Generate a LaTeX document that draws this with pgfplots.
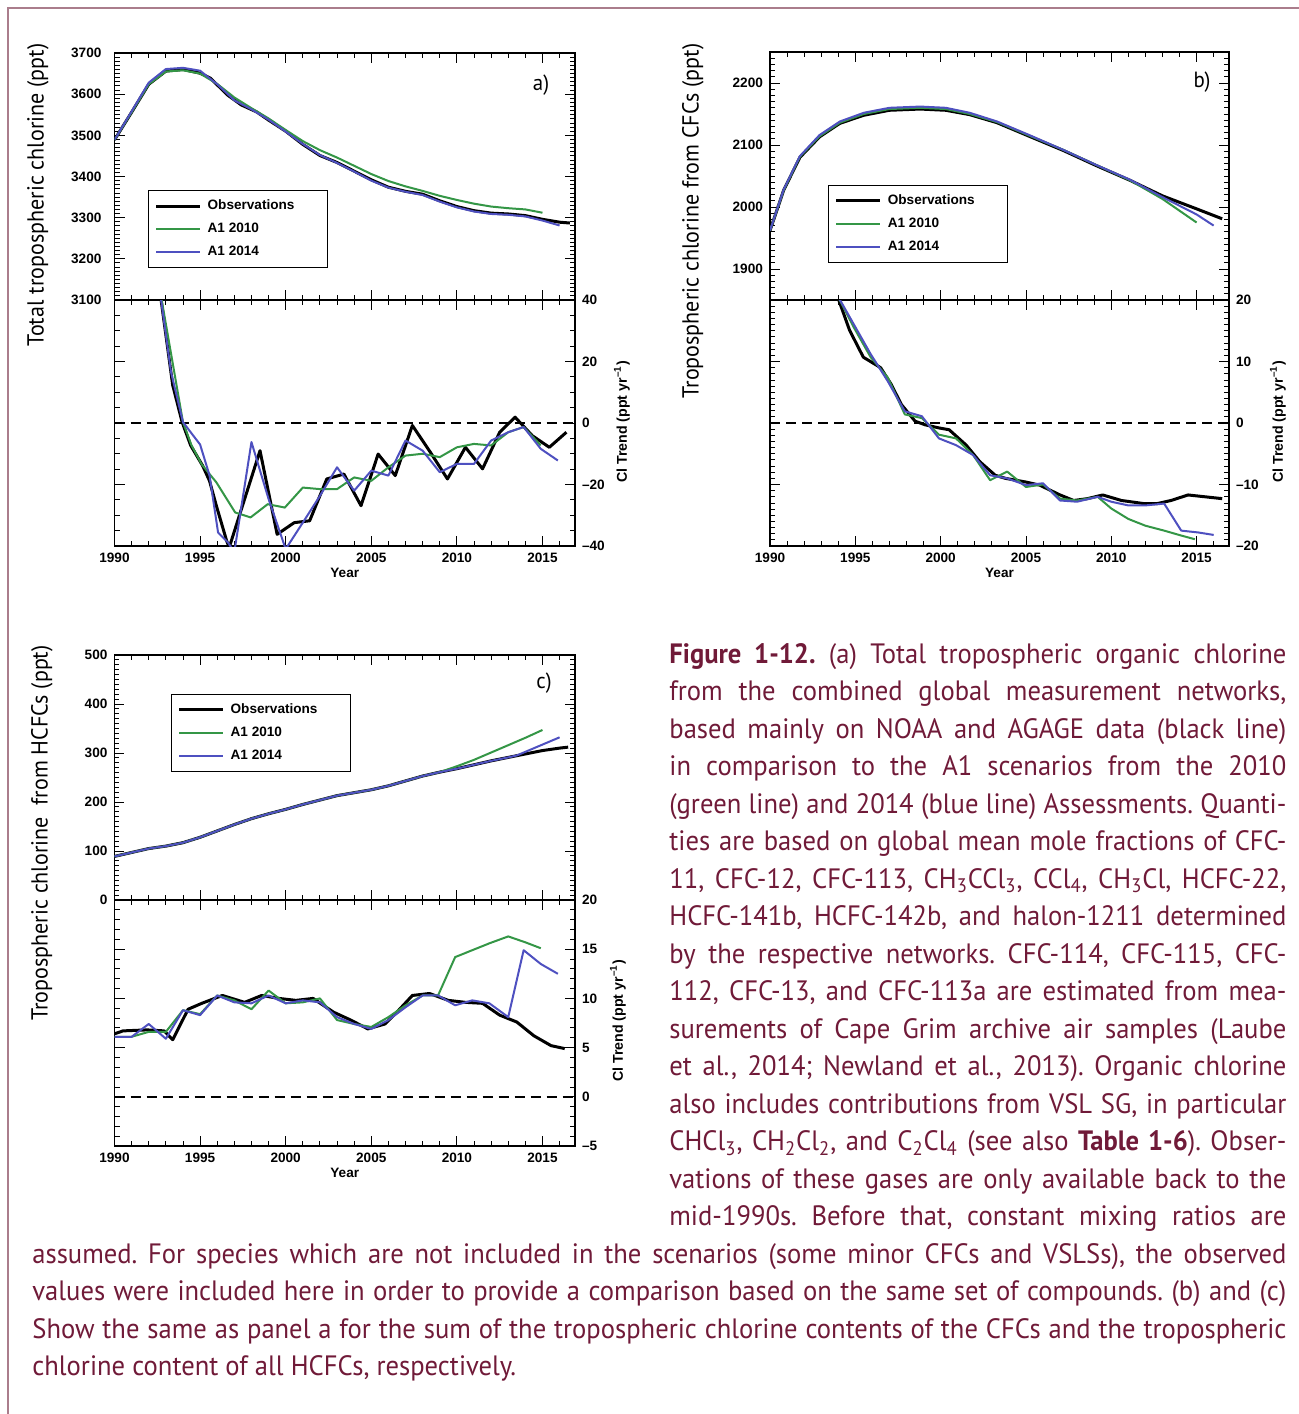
\documentclass[border=0pt]{standalone}
\usepackage{pgfplots}
\pgfplotsset{compat=1.18}
\usepackage{fontspec}
\setmainfont{PT Sans}[FakeStretch=0.95]
\newfontfamily\hel{Liberation Sans}[Ligatures=TeX]
\definecolor{gline}{RGB}{52,150,70}
\definecolor{bline}{RGB}{78,80,192}
\definecolor{captxt}{RGB}{112,26,56}
\definecolor{framec}{RGB}{170,125,140}
\newcommand\tickfont{\hel\bfseries\fontsize{6.8}{8}\selectfont}
\newcommand\trendfont{\hel\bfseries\fontsize{7.1}{8}\selectfont}
\newcommand\labfont{\fontsize{11.6}{13}\selectfont}
\newcommand\letfont{\fontsize{11}{13}\selectfont}
\newcommand\capfont{\fontsize{14}{18.75}\selectfont}
\pgfplotsset{
 base/.style={scale only axis, anchor=north west, xmin=1990, xmax=2016.9,
  axis line style={line width=0.7pt},
  tick style={black, line width=0.45pt},
  tick align=inside, major tick length=5pt, minor tick length=2.5pt,
  xtick={1990,1995,2000,2005,2010,2015},
  minor xtick={1990,1991,...,2016},
  ticklabel style={font=\tickfont}},
 topax/.style={base, xticklabels={}},
 botax/.style={base, xticklabels={1990,1995,2000,2005,2010,2015},
  yticklabel pos=right, xlabel={Year}, xlabel style={font=\tickfont, yshift=4pt}},
 obs/.style={black, line width=1.5pt, line join=round},
 aa/.style={gline, line width=1pt, line join=round},
 ab/.style={bline, line width=1pt, line join=round},
 zl/.style={black, line width=1pt, dash pattern=on 5pt off 3pt},
 leg/.style={legend style={draw=black, line width=0.5pt, font=\tickfont, anchor=north west,
   inner xsep=3pt, inner ysep=2pt, row sep=0pt, nodes={minimum height=11.5pt, inner sep=1pt},
   cells={anchor=west}},
   legend image code/.code={\draw[##1] (0pt,0pt) -- (22pt,0pt);}},
}
\begin{document}
\frenchspacing
\begin{tikzpicture}
\path[use as bounding box] (0,0) rectangle (649.5pt,-707pt);
\draw[framec, line width=1pt] (4pt,-707pt) -- (4pt,-4pt) -- (649.5pt,-4pt);

% ---------- panel a top
\begin{axis}[topax, leg, at={(57.25pt,-26.5pt)}, width=230.25pt, height=123.5pt,
 ymin=3100, ymax=3700, ytick={3100,3200,...,3700},
 yticklabels={3100,3200,3300,3400,3500,3600,3700},
 yticklabel style={xshift=-3pt},
 minor ytick={3100,3110,...,3700},
 legend style={at={(0.073,0.445)}}]
\addplot[obs] coordinates {(1990,3489) (1991,3556) (1992,3624) (1993,3656) (1994,3660) (1995,3651) (1995.6,3639) (1996.6,3598) (1997.4,3574) (1998.3,3557) (1999,3537) (2000,3510) (2001,3478) (2002,3451) (2003,3434) (2004,3413) (2005,3392) (2006,3374) (2007,3364) (2008,3357) (2009,3341) (2010,3327) (2011,3317) (2012,3311) (2013,3309) (2014,3305) (2015,3296) (2016,3289) (2016.6,3287)};
\addlegendentry{\hspace{2pt}\makebox[56pt][l]{Observations}}
\addplot[aa] coordinates {(1990,3489) (1991,3556) (1992,3624) (1993,3655) (1994,3658) (1995,3650) (1996,3625) (1997,3592) (1998,3566) (1999,3541) (2000,3513) (2001,3486) (2002,3464) (2003,3446) (2004,3426) (2005,3406) (2006,3389) (2007,3376) (2008,3365) (2009,3353) (2010,3343) (2011,3334) (2012,3327) (2013,3323) (2014,3320) (2015,3312)};
\addlegendentry{\hspace{2pt}A1 2010}
\addplot[ab] coordinates {(1990,3489) (1991,3558) (1992,3628) (1993,3661) (1994,3664) (1995,3657) (1996,3624) (1997,3585) (1998,3563) (1999,3538) (2000,3509) (2001,3479) (2002,3452) (2003,3433) (2004,3412) (2005,3390) (2006,3373) (2007,3363) (2008,3355) (2009,3339) (2010,3325) (2011,3315) (2012,3309) (2013,3307) (2014,3303) (2015,3293) (2016,3281)};
\addlegendentry{\hspace{2pt}A1 2014}
\end{axis}

% ---------- panel a bottom
\begin{axis}[botax, at={(57.25pt,-150pt)}, width=230.25pt, height=123pt,
 ymin=-40, ymax=40, ytick={-40,-20,0,20,40},
 yticklabels={–40,–20,0,20,40}, minor ytick={-40,-35,...,40}]
\addplot[zl] coordinates {(1990,0) (2016.9,0)};
\addplot[obs] coordinates {(1992.6,45) (1993.4,12.3) (1993.95,0.3) (1994.45,-7.3) (1995.15,-13.9) (1995.55,-18.8) (1995.95,-26.9) (1996.55,-38.3) (1996.7,-40.5) (1998.5,-9) (1999.5,-36.2) (2000.5,-32.4) (2001.4,-31.8) (2002.4,-18.2) (2003.4,-16.6) (2004.4,-26.9) (2005.4,-10.1) (2006.4,-17.1) (2007.4,-0.8) (2008.45,-9.5) (2009.45,-18.2) (2010.5,-7.9) (2011.5,-14.9) (2012.5,-3) (2013.4,1.9) (2014.4,-4.1) (2015.4,-7.9) (2016.4,-3)};
\addplot[aa] coordinates {(1992.6,45) (1994,0.3) (1994.5,-7.3) (1995.1,-13.5) (1995.95,-19.3) (1997.05,-29.1) (1997.95,-30.7) (1998.95,-26.4) (1999.95,-27.5) (2001,-21) (2002,-21.5) (2003,-21.5) (2004,-17.7) (2005,-18.8) (2006,-14.4) (2007,-10.6) (2008,-10) (2009,-11.1) (2010,-7.9) (2011,-6.8) (2012,-7.3) (2013,-3) (2013.9,-1.3) (2014.9,-7.3)};
\addplot[ab] coordinates {(1992.6,45) (1993.3,16.6) (1994,0.3) (1994.45,-3) (1995,-7) (1995.55,-17) (1996.05,-35.6) (1996.65,-39) (1997,-42) (1998,-6.2) (1999,-24.7) (2000,-41) (2001,-32.4) (2002,-23.7) (2003,-14.4) (2004,-22) (2005,-15.5) (2006,-17.1) (2007,-5.7) (2008,-9) (2009,-16) (2010,-13.3) (2011,-13.3) (2012,-5.7) (2013,-3) (2013.9,-1.3) (2014.9,-8.4) (2015.9,-12.2)};
\end{axis}

% ---------- panel b top
\begin{axis}[topax, leg, at={(385pt,-26pt)}, width=229.5pt, height=124pt,
 ymin=1850, ymax=2250, ytick={1900,2000,2100,2200},
 yticklabels={1900,2000,2100,2200},
 minor ytick={1850,1860,...,2250},
 legend style={at={(0.127,0.464)}}]
\addplot[obs] coordinates {(1990,1962) (1990.8,2027) (1991.75,2080) (1992.9,2113) (1994.1,2135) (1995.5,2148) (1997,2156) (1998.8,2158) (2000.3,2156) (2001.7,2149) (2003.3,2136) (2005.2,2114) (2007.2,2091) (2009.1,2067) (2011.1,2043) (2013,2018) (2015,1997) (2016.5,1981)};
\addlegendentry{\hspace{2pt}\makebox[56pt][l]{Observations}}
\addplot[aa] coordinates {(1990,1962) (1990.8,2027) (1991.75,2081) (1992.9,2114) (1994.1,2136) (1995.5,2150) (1997,2158) (1998.8,2160) (2000.3,2158) (2001.7,2150) (2003.3,2137) (2005.2,2115) (2007.2,2092) (2009.1,2068) (2011.1,2043) (2013,2013) (2015,1975)};
\addlegendentry{\hspace{2pt}A1 2010}
\addplot[ab] coordinates {(1990,1962) (1990.8,2028) (1991.75,2082) (1992.9,2116) (1994.1,2138) (1995.5,2152) (1997,2160) (1998.8,2162) (2000.3,2160) (2001.7,2152) (2003.3,2138) (2005.2,2116) (2007.2,2092) (2009.1,2068) (2011.1,2044) (2013,2016) (2015,1988) (2016,1970)};
\addlegendentry{\hspace{2pt}A1 2014}
\end{axis}

% ---------- panel b bottom
\begin{axis}[botax, at={(385pt,-150pt)}, width=229.5pt, height=123pt,
 ymin=-20, ymax=20, ytick={-20,-10,0,10,20},
 yticklabels={–20,–10,0,10,20}, minor ytick={-20,-19,...,20}]
\addplot[zl] coordinates {(1990,0) (2016.9,0)};
\addplot[obs] coordinates {(1993.9,21) (1994.66,15.1) (1995.47,10.7) (1996.48,9.0) (1997.1,6.3) (1997.7,3.0) (1998.5,0.3) (1999.1,-0.3) (1999.9,-0.8) (2000.5,-1.1) (2001.5,-3.6) (2002.3,-6.3) (2003.2,-8.5) (2003.8,-9.0) (2005,-9.6) (2005.8,-10.1) (2007,-11.7) (2007.8,-12.6) (2008.6,-12.3) (2009.5,-11.7) (2010.6,-12.6) (2011.9,-13.1) (2012.7,-13.1) (2013.5,-12.6) (2014.5,-11.7) (2015.5,-12.0) (2016.5,-12.3)};
\addplot[aa] coordinates {(1993.9,21) (1994.9,15.6) (1995.9,10.7) (1996.9,7.4) (1997.9,1.4) (1998.9,0.8) (1999.9,-1.9) (2000.9,-2.5) (2001.9,-5.2) (2002.9,-9.3) (2003.9,-7.9) (2005,-10.4) (2006,-10) (2007,-12.3) (2008,-12.6) (2009.2,-12) (2010,-13.9) (2011,-15.6) (2012,-16.7) (2013.1,-17.5) (2014.1,-18.3) (2014.9,-18.9)};
\addplot[ab] coordinates {(1993.9,21) (1994.9,16.1) (1995.9,11.2) (1996.9,6.8) (1997.9,1.9) (1998.9,1.1) (1999.9,-2.5) (2000.9,-3.6) (2001.9,-5.2) (2002.9,-8.5) (2003.9,-9.0) (2005,-10.1) (2006,-9.8) (2007,-12.6) (2008,-12.8) (2009.2,-12) (2010,-12.8) (2011,-13.4) (2012,-13.4) (2013.1,-13.1) (2014.1,-17.5) (2015.1,-17.8) (2016,-18.2)};
\end{axis}

% ---------- panel c top
\begin{axis}[topax, leg, at={(57.25pt,-327.5pt)}, width=230.25pt, height=122.5pt,
 ymin=0, ymax=500, ytick={0,100,...,500},
 yticklabels={0,100,200,300,400,500},
 minor ytick={0,10,...,500},
 legend style={at={(0.123,0.841)}}]
\addplot[obs] coordinates {(1990,89) (1991,97) (1992,105) (1993,110) (1994,117) (1995,128) (1996,141) (1997,154) (1998,166) (1999,176) (2000,185) (2001,195) (2002,204) (2003,213) (2004,219) (2005,225) (2006,233) (2007,243) (2008,253) (2009,261) (2010,268) (2011,276) (2012,284) (2013,291) (2014,298) (2015,305) (2016,310) (2016.5,312)};
\addlegendentry{\hspace{2pt}\makebox[56pt][l]{Observations}}
\addplot[aa] coordinates {(1990,89) (1991,97) (1992,105) (1993,110) (1994,117) (1995,128) (1996,141) (1997,154) (1998,166) (1999,176) (2000,185) (2001,195) (2002,204) (2003,213) (2004,219) (2005,225) (2006,233) (2007,243) (2008,253) (2009,261) (2010,273) (2011,286) (2012,301) (2013,316) (2014,331) (2015,347)};
\addlegendentry{\hspace{2pt}A1 2010}
\addplot[ab] coordinates {(1990,89) (1991,97) (1992,105) (1993,110) (1994,117) (1995,128) (1996,141) (1997,154) (1998,166) (1999,176) (2000,185) (2001,195) (2002,204) (2003,213) (2004,219) (2005,225) (2006,233) (2007,243) (2008,253) (2009,261) (2010,268) (2011,276) (2012,284) (2013,291) (2013.5,295) (2016,332)};
\addlegendentry{\hspace{2pt}A1 2014}
\end{axis}

% ---------- panel c bottom
\begin{axis}[botax, at={(57.25pt,-450pt)}, width=230.25pt, height=123pt,
 ymin=-5, ymax=20, ytick={-5,0,5,10,15,20},
 yticklabels={–5,0,5,10,15,20}, minor ytick={-5,-4,...,20}]
\addplot[zl] coordinates {(1990,0) (2016.9,0)};
\addplot[obs] coordinates {(1990,6.4) (1990.5,6.7) (1991.9,6.8) (1992.9,6.7) (1993.4,5.8) (1994.3,8.9) (1995.1,9.5) (1996.3,10.3) (1997.6,9.6) (1998.6,10.3) (1999.6,10.0) (2000.6,9.8) (2001.6,10.0) (2002.8,8.6) (2003.8,7.8) (2004.8,6.9) (2005.8,7.4) (2006.6,8.8) (2007.4,10.3) (2008.4,10.5) (2009.5,9.8) (2010.5,9.6) (2011.5,9.5) (2012.5,8.3) (2013.5,7.6) (2014.5,6.2) (2015.5,5.2) (2016.3,4.9)};
\addplot[aa] coordinates {(1990,6.1) (1991,6.1) (1992,6.6) (1993,6.6) (1994,8.8) (1995,8.4) (1996,10.3) (1997,9.8) (1998,8.9) (1999,10.8) (2000,9.5) (2001,9.6) (2002,10) (2003,7.8) (2004,7.4) (2005,7.1) (2006,8.1) (2007,9.3) (2008,10.3) (2008.9,10.3) (2009.9,14.2) (2010.9,14.9) (2011.9,15.6) (2013,16.3) (2014,15.7) (2014.9,15.1)};
\addplot[ab] coordinates {(1990,6.1) (1991,6.1) (1992,7.4) (1993,5.9) (1994,8.8) (1995,8.3) (1996,10.3) (1997,9.6) (1998,9.5) (1999,10.3) (2000,9.5) (2001,9.8) (2002,9.6) (2003,8.1) (2004,7.4) (2005,6.9) (2006,7.8) (2007,9.1) (2008,10.3) (2008.9,10.3) (2009.9,9.3) (2010.9,9.8) (2011.9,9.5) (2013,8.1) (2013.9,14.9) (2014.9,13.5) (2015.9,12.5)};
\end{axis}

% ---------- labels
\node[rotate=90, font=\labfont] at (19pt,-97.5pt) {Total tropospheric chlorine (ppt)};
\node[rotate=90, font=\labfont] at (346.5pt,-110.5pt) {Tropospheric chlorine from CFCs (ppt)};
\node[rotate=90, font=\labfont] at (21pt,-416.5pt) {Tropospheric chlorine\ \ from HCFCs (ppt)};
\node[rotate=90, font=\trendfont] at (311pt,-211pt) {Cl Trend (ppt yr\textsuperscript{–1})};
\node[rotate=90, font=\trendfont] at (639pt,-211pt) {Cl Trend (ppt yr\textsuperscript{–1})};
\node[rotate=90, font=\trendfont] at (309pt,-510.5pt) {Cl Trend (ppt yr\textsuperscript{–1})};
\node[font=\letfont] at (270.5pt,-42.5pt) {a)};
\node[font=\letfont] at (601pt,-41pt) {b)};
\node[font=\letfont] at (272pt,-341.5pt) {c)};

% ---------- caption
\node[anchor=north west, inner sep=0pt, text width=627pt, align=justify, font=\capfont, text=captxt] at (16pt,-321.5pt) {%
\frenchspacing\pretolerance=-1\tolerance=10000\hyphenpenalty=10000\exhyphenpenalty=0%
\parshape 17 318.5pt 308.5pt 318.5pt 308.5pt 318.5pt 308.5pt 318.5pt 308.5pt 318.5pt 308.5pt 318.5pt 308.5pt 318.5pt 308.5pt 318.5pt 308.5pt 318.5pt 308.5pt 318.5pt 308.5pt 318.5pt 308.5pt 318.5pt 308.5pt 318.5pt 308.5pt 318.5pt 308.5pt 318.5pt 308.5pt 318.5pt 308.5pt 0pt 627pt
\noindent\textbf{Figure 1-12.} (a) Total tropospheric organic chlorine\linebreak
from the combined global measurement networks,\linebreak
based mainly on NOAA and AGAGE data (black line)\linebreak
in comparison to the A1 scenarios from the 2010\linebreak
(green line) and 2014 (blue line) Assessments. Quanti-\linebreak
ties are based on global mean mole fractions of CFC-\linebreak
11, CFC-12, CFC-113, CH\textsubscript{3}CCl\textsubscript{3}, CCl\textsubscript{4}, CH\textsubscript{3}Cl, HCFC-22,\linebreak
HCFC-141b, HCFC-142b, and halon-1211 determined\linebreak
by the respective networks. CFC-114, CFC-115, CFC-\linebreak
112, CFC-13, and CFC-113a are estimated from mea-\linebreak
surements of Cape Grim archive air samples (Laube\linebreak
et al., 2014; Newland et al., 2013). Organic chlorine\linebreak
also includes contributions from VSL SG, in particular\linebreak
CHCl\textsubscript{3}, CH\textsubscript{2}Cl\textsubscript{2}, and C\textsubscript{2}Cl\textsubscript{4} (see also \textbf{Table 1-6}). Obser-\linebreak
vations of these gases are only available back to the\linebreak
mid-1990s. Before that, constant mixing ratios are\linebreak
assumed. For species which are not included in the scenarios (some minor CFCs and VSLSs), the observed\linebreak
values were included here in order to provide a comparison based on the same set of compounds. (b) and (c)\linebreak
Show the same as panel a for the sum of the tropospheric chlorine contents of the CFCs and the tropospheric\linebreak
chlorine content of all HCFCs, respectively.\par};
\end{tikzpicture}
\end{document}
